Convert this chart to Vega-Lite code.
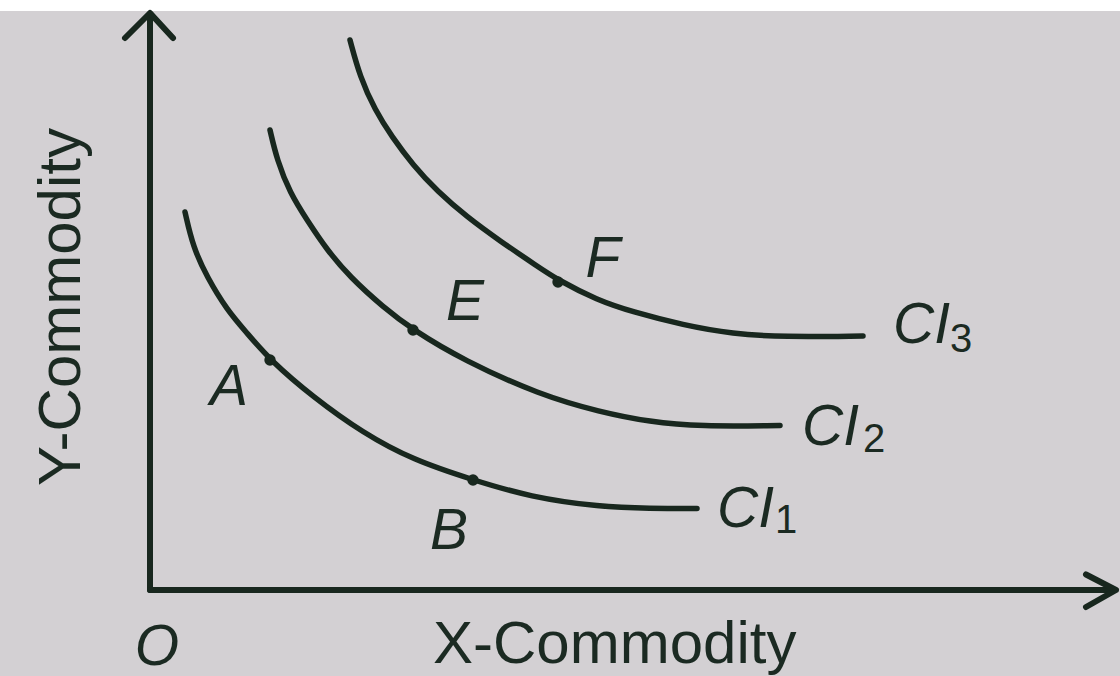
{
  "$schema": "https://vega.github.io/schema/vega-lite/v6.json",
  "width": 1120,
  "height": 665,
  "autosize": {"type": "none"},
  "padding": {"top": 11, "left": 0, "right": 0, "bottom": 0},
  "background": "#ffffff",
  "config": {"view": {"stroke": null, "fill": "#d3d0d3"}},
  "datasets": {
    "axes": [
      {"g": "yaxis", "o": 1, "x": 0, "y": 0},
      {"g": "yaxis", "o": 2, "x": 0, "y": 11.52},
      {"g": "yarrow", "o": 1, "x": -0.25, "y": 11.04},
      {"g": "yarrow", "o": 2, "x": 0, "y": 11.54},
      {"g": "yarrow", "o": 3, "x": 0.23, "y": 11.04},
      {"g": "xaxis", "o": 1, "x": 0, "y": 0},
      {"g": "xaxis", "o": 2, "x": 9.64, "y": 0},
      {"g": "xarrow", "o": 1, "x": 9.36, "y": 0.31},
      {"g": "xarrow", "o": 2, "x": 9.66, "y": 0},
      {"g": "xarrow", "o": 3, "x": 9.36, "y": -0.34}
    ],
    "curves": [
      {"c": "CI1", "x": 0.35, "y": 7.56},
      {"c": "CI1", "x": 0.43, "y": 6.86},
      {"c": "CI1", "x": 0.57, "y": 6.26},
      {"c": "CI1", "x": 0.77, "y": 5.6},
      {"c": "CI1", "x": 0.97, "y": 5.14},
      {"c": "CI1", "x": 1.2, "y": 4.6},
      {"c": "CI1", "x": 1.63, "y": 3.86},
      {"c": "CI1", "x": 2.13, "y": 3.14},
      {"c": "CI1", "x": 2.63, "y": 2.6},
      {"c": "CI1", "x": 3.23, "y": 2.2},
      {"c": "CI1", "x": 3.8, "y": 1.86},
      {"c": "CI1", "x": 4.5, "y": 1.66},
      {"c": "CI1", "x": 5.0, "y": 1.63},
      {"c": "CI1", "x": 5.47, "y": 1.63},
      {"c": "CI2", "x": 1.2, "y": 9.2},
      {"c": "CI2", "x": 1.27, "y": 8.6},
      {"c": "CI2", "x": 1.4, "y": 7.94},
      {"c": "CI2", "x": 1.57, "y": 7.4},
      {"c": "CI2", "x": 1.77, "y": 6.8},
      {"c": "CI2", "x": 2.0, "y": 6.26},
      {"c": "CI2", "x": 2.33, "y": 5.66},
      {"c": "CI2", "x": 2.63, "y": 5.2},
      {"c": "CI2", "x": 3.13, "y": 4.6},
      {"c": "CI2", "x": 3.9, "y": 3.9},
      {"c": "CI2", "x": 4.5, "y": 3.56},
      {"c": "CI2", "x": 5.0, "y": 3.36},
      {"c": "CI2", "x": 5.5, "y": 3.27},
      {"c": "CI2", "x": 6.3, "y": 3.29},
      {"c": "CI3", "x": 2.0, "y": 11.0},
      {"c": "CI3", "x": 2.1, "y": 10.26},
      {"c": "CI3", "x": 2.25, "y": 9.6},
      {"c": "CI3", "x": 2.42, "y": 9.06},
      {"c": "CI3", "x": 2.63, "y": 8.5},
      {"c": "CI3", "x": 2.87, "y": 7.98},
      {"c": "CI3", "x": 3.17, "y": 7.46},
      {"c": "CI3", "x": 3.5, "y": 6.98},
      {"c": "CI3", "x": 3.87, "y": 6.48},
      {"c": "CI3", "x": 4.08, "y": 6.2},
      {"c": "CI3", "x": 4.47, "y": 5.8},
      {"c": "CI3", "x": 4.83, "y": 5.56},
      {"c": "CI3", "x": 5.33, "y": 5.3},
      {"c": "CI3", "x": 5.83, "y": 5.12},
      {"c": "CI3", "x": 6.33, "y": 5.06},
      {"c": "CI3", "x": 7.13, "y": 5.08}
    ],
    "points": [
      {"p": "A", "x": 1.2, "y": 4.6},
      {"p": "B", "x": 3.23, "y": 2.2},
      {"p": "E", "x": 2.63, "y": 5.2},
      {"p": "F", "x": 4.08, "y": 6.16}
    ],
    "labels": [
      {"k": "letter", "t": "A", "x": 0.79, "y": 3.7},
      {"k": "letter", "t": "B", "x": 2.99, "y": 0.82},
      {"k": "letter", "t": "E", "x": 3.15, "y": 5.4},
      {"k": "letter", "t": "F", "x": 4.53, "y": 6.26},
      {"k": "letter", "t": "O", "x": 0.07, "y": -1.5},
      {"k": "ci", "t": "CI", "x": 5.67, "y": 1.26},
      {"k": "ci", "t": "CI", "x": 6.52, "y": 2.9},
      {"k": "ci", "t": "CI", "x": 7.43, "y": 4.94},
      {"k": "sub", "t": "1", "x": 6.25, "y": 1.14},
      {"k": "sub", "t": "2", "x": 7.13, "y": 2.76},
      {"k": "sub", "t": "3", "x": 8.0, "y": 4.76},
      {"k": "xtitle", "t": "X-Commodity", "x": 2.83, "y": -1.46},
      {"k": "ytitle", "t": "Y-Commodity", "x": -0.7, "y": 5.66}
    ]
  },
  "encoding": {
    "x": {"field": "x", "type": "quantitative", "scale": {"domain": [-1.5, 9.7], "nice": false, "zero": false}, "axis": null},
    "y": {"field": "y", "type": "quantitative", "scale": {"domain": [-1.72, 11.58], "nice": false, "zero": false}, "axis": null}
  },
  "layer": [
    {
      "data": {"name": "axes"},
      "mark": {"type": "line", "strokeWidth": 6, "color": "#18271e", "strokeCap": "round", "strokeJoin": "round", "clip": false},
      "encoding": {"detail": {"field": "g"}, "order": {"field": "o", "type": "quantitative"}}
    },
    {
      "data": {"name": "curves"},
      "mark": {"type": "line", "strokeWidth": 5.5, "color": "#18271e", "strokeCap": "round", "interpolate": "basis", "clip": false},
      "encoding": {"detail": {"field": "c"}}
    },
    {
      "data": {"name": "points"},
      "mark": {"type": "point", "filled": true, "shape": "circle", "size": 130, "color": "#18271e", "opacity": 1},
      "encoding": {}
    },
    {
      "data": {"name": "labels"},
      "transform": [{"filter": "datum.k === 'letter'"}],
      "mark": {"type": "text", "font": "Liberation Sans", "fontStyle": "italic", "fontSize": 57, "align": "center", "baseline": "alphabetic", "color": "#1b2a22", "clip": false},
      "encoding": {"text": {"field": "t"}}
    },
    {
      "data": {"name": "labels"},
      "transform": [{"filter": "datum.k === 'ci'"}],
      "mark": {"type": "text", "font": "Liberation Sans", "fontStyle": "italic", "fontSize": 57, "align": "left", "baseline": "alphabetic", "color": "#1b2a22", "clip": false},
      "encoding": {"text": {"field": "t"}}
    },
    {
      "data": {"name": "labels"},
      "transform": [{"filter": "datum.k === 'sub'"}],
      "mark": {"type": "text", "font": "Liberation Sans", "fontSize": 40, "align": "left", "baseline": "alphabetic", "color": "#1b2a22", "clip": false},
      "encoding": {"text": {"field": "t"}}
    },
    {
      "data": {"name": "labels"},
      "transform": [{"filter": "datum.k === 'xtitle'"}],
      "mark": {"type": "text", "font": "Liberation Sans", "fontSize": 60, "align": "left", "baseline": "alphabetic", "color": "#1b2a22", "clip": false},
      "encoding": {"text": {"field": "t"}}
    },
    {
      "data": {"name": "labels"},
      "transform": [{"filter": "datum.k === 'ytitle'"}],
      "mark": {"type": "text", "font": "Liberation Sans", "fontSize": 60, "angle": 270, "align": "center", "baseline": "alphabetic", "color": "#1b2a22", "clip": false},
      "encoding": {"text": {"field": "t"}}
    }
  ]
}
